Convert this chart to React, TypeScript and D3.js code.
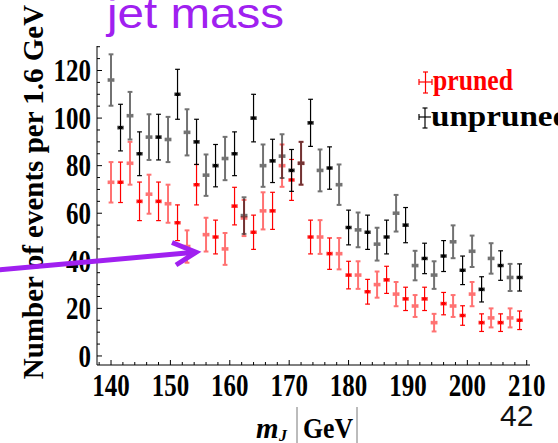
import React from 'react';
import * as d3 from 'd3';

const massBins = [140.0, 141.6, 143.2, 144.8, 146.4, 148.0, 149.6, 151.2, 152.8, 154.4, 156.0, 157.6, 159.2, 160.8, 162.4, 164.0, 165.6, 167.2, 168.8, 170.4, 172.0, 173.6, 175.2, 176.8, 178.4, 180.0, 181.6, 183.2, 184.8, 186.4, 188.0, 189.6, 191.2, 192.8, 194.4, 196.0, 197.6, 199.2, 200.8, 202.4, 204.0, 205.6, 207.2, 208.8];

const prunedCounts = [73, 73, 81, 65, 68, 65, 64, 56, 46, 72, 51, 50, 45, 63, 58, 52, 61, 61, 80, 74, 81, 50, 50, 43, 43, 34, 34, 27, 30, 32, 26, 24, 21, 24, 14, 22, 21, 17, 26, 14, 16, 14, 16, 15];
const prunedErrors = [8.5, 8.5, 9.0, 8.1, 8.2, 8.1, 8.0, 7.5, 6.8, 8.5, 7.1, 7.1, 6.7, 7.9, 7.6, 7.2, 7.8, 7.8, 8.9, 8.6, 9.0, 7.1, 7.1, 6.6, 6.6, 5.8, 5.8, 5.2, 5.5, 5.7, 5.1, 4.9, 4.6, 4.9, 3.7, 4.7, 4.6, 4.1, 5.1, 3.7, 4.0, 3.7, 4.0, 3.9];

const unprunedCounts = [116, 96, 101, 85, 92, 92, 91, 110, 94, 90, 76, 80, 83, 85, 59, 100, 80, 82, 84, 78, 81, 98, 78, 79, 72, 54, 53, 52, 47, 50, 60, 55, 38, 41, 34, 42, 48, 36, 44, 28, 41, 38, 33, 33];
const unprunedErrors = [10.8, 9.8, 10.0, 9.2, 9.6, 9.6, 9.5, 10.5, 9.7, 9.5, 8.7, 8.9, 9.1, 9.2, 7.7, 10.0, 8.9, 9.1, 9.2, 8.8, 9.0, 9.9, 8.8, 8.9, 8.5, 7.3, 7.3, 7.2, 6.9, 7.1, 7.7, 7.4, 6.2, 6.4, 5.8, 6.5, 6.9, 6.0, 6.6, 5.3, 6.4, 6.2, 5.7, 5.7];

const xTickLabels = [140, 150, 160, 170, 180, 190, 200, 210];
const yTickLabels = [0, 20, 40, 60, 80, 100, 120];

const PURPLE = '#a020f0';
const SERIF = '"Liberation Serif", "Times New Roman", serif';
const SANS = '"Liberation Sans", Arial, sans-serif';

function ErrPoint({ cx, cy, top, bot, color, faint }: any) {
  const sw = faint ? 2 : 1.2;
  return (
    <g opacity={faint ? 0.55 : 1} stroke={color} strokeWidth={sw} fill="none">
      <line x1={cx} x2={cx} y1={top} y2={bot} />
      <line x1={cx - 2.4} x2={cx + 2.4} y1={top} y2={top} />
      <line x1={cx - 2.4} x2={cx + 2.4} y1={bot} y2={bot} />
      <line x1={cx - 2.4} x2={cx + 2.4} y1={cy} y2={cy} />
      <line x1={cx - 2.4} x2={cx - 2.4} y1={cy - 1.8} y2={cy + 1.8} />
      <line x1={cx + 2.4} x2={cx + 2.4} y1={cy - 1.8} y2={cy + 1.8} />
      <rect x={cx - 1.7} y={cy - 1.7} width={3.4} height={3.4} fill={color} stroke="none" />
    </g>
  );
}

export default function App() {
  const W = 558, H = 443;
  const x = d3.scaleLinear().domain([137.64, 210.55]).range([97, 530]);
  const y = d3.scaleLinear().domain([-3.8, 130.3]).range([365, 46]);
  const xMinor = d3.range(138, 211, 2);
  const yMinor = d3.range(0, 131, 5);

  const series = [
    { counts: prunedCounts, errs: prunedErrors, color: '#ff0000' },
    { counts: unprunedCounts, errs: unprunedErrors, color: '#000000' },
  ];

  return (
    <svg width={W} height={H} style={{ position: 'absolute', left: 0, top: 0, background: '#fff' }}>
      <rect width={W} height={H} fill="#fff" />
      {/* title */}
      <text x={107} y={28} fontFamily={SANS} fontSize={42} fill={PURPLE} textLength={177} lengthAdjust="spacingAndGlyphs">jet mass</text>

      {/* axes */}
      <line x1={97} x2={97} y1={46} y2={365} stroke="#000" strokeWidth={1} />
      <line x1={97} x2={530} y1={365} y2={365} stroke="#000" strokeWidth={1} />
      {xMinor.map((v) => (
        <line key={'xt' + v} x1={x(v)} x2={x(v)} y1={365} y2={v % 10 === 0 ? 360 : 362} stroke="#000" strokeWidth={1} />
      ))}
      {yMinor.map((v) => (
        <line key={'yt' + v} x1={97} x2={v % 20 === 0 ? 102 : 100} y1={y(v)} y2={y(v)} stroke="#000" strokeWidth={1} />
      ))}
      {xTickLabels.map((v) => (
        <text key={'xl' + v} transform={`translate(${x(v)},396) scale(0.78,1)`} textAnchor="middle" fontFamily={SERIF} fontWeight="bold" fontSize={32} fill="#000">{v}</text>
      ))}
      {yTickLabels.map((v) => (
        <text key={'yl' + v} transform={`translate(91,${y(v) + 10.8}) scale(0.78,1)`} textAnchor="end" fontFamily={SERIF} fontWeight="bold" fontSize={32} fill="#000">{v}</text>
      ))}

      {/* y title */}
      <text transform="translate(43,192) rotate(-90)" textAnchor="middle" fontFamily={SERIF} fontWeight="bold" fontSize={29} fill="#000">Number of events per 1.6 GeV</text>

      {/* x title */}
      <text x={256} y={438} fontFamily={SERIF} fontWeight="bold" fontStyle="italic" fontSize={29} fill="#000">m</text>
      <text x={279} y={441} fontFamily={SERIF} fontWeight="bold" fontStyle="italic" fontSize={16} fill="#000">J</text>
      <line x1={297} x2={297} y1={407} y2={443} stroke="#555" strokeWidth={0.8} />
      <text transform="translate(303,438) scale(0.86,1)" fontFamily={SERIF} fontWeight="bold" fontSize={30} fill="#000">GeV</text>
      <line x1={357} x2={357} y1={407} y2={443} stroke="#555" strokeWidth={0.8} />

      {/* slide number */}
      <text x={500} y={426} fontFamily={SANS} fontSize={30} fill="#111">42</text>

      {/* data */}
      {series.map((s, si) => (
        <g key={'s' + si}>
          {massBins.map((m, i) => (
            <ErrPoint key={i} cx={x(m)} cy={y(s.counts[i])} top={y(s.counts[i] + s.errs[i])} bot={y(s.counts[i] - s.errs[i])} color={s.color} faint={i % 2 === 0} />
          ))}
        </g>
      ))}

      {/* legend */}
      <g stroke="#ff0000" strokeWidth={1.2}>
        <line x1={419} x2={432} y1={82} y2={82} />
        <line x1={425.5} x2={425.5} y1={72} y2={93} />
        <line x1={423} x2={428} y1={72} y2={72} />
        <line x1={423} x2={428} y1={93} y2={93} />
        <line x1={419} x2={419} y1={79} y2={85} />
        <line x1={432} x2={432} y1={79} y2={85} />
      </g>
      <text x={433} y={90} fontFamily={SERIF} fontWeight="bold" fontSize={30} fill="#ff0000" textLength={80} lengthAdjust="spacingAndGlyphs">pruned</text>
      <g stroke="#000" strokeWidth={1.2}>
        <line x1={419} x2={431} y1={117} y2={117} />
        <line x1={425} x2={425} y1={108} y2={128} />
        <line x1={422.5} x2={427.5} y1={108} y2={108} />
        <line x1={422.5} x2={427.5} y1={128} y2={128} />
        <line x1={419} x2={419} y1={114} y2={120} />
      </g>
      <text x={431} y={126} fontFamily={SERIF} fontWeight="bold" fontSize={30} fill="#000" textLength={140} lengthAdjust="spacingAndGlyphs">unpruned</text>

      {/* arrow */}
      <g stroke={PURPLE} strokeWidth={5} fill="none" strokeLinejoin="miter">
        <line x1={-2} y1={270} x2={192} y2={252.5} />
        <polyline points="172,242.5 196,252.3 176,265" />
      </g>
    </svg>
  );
}
